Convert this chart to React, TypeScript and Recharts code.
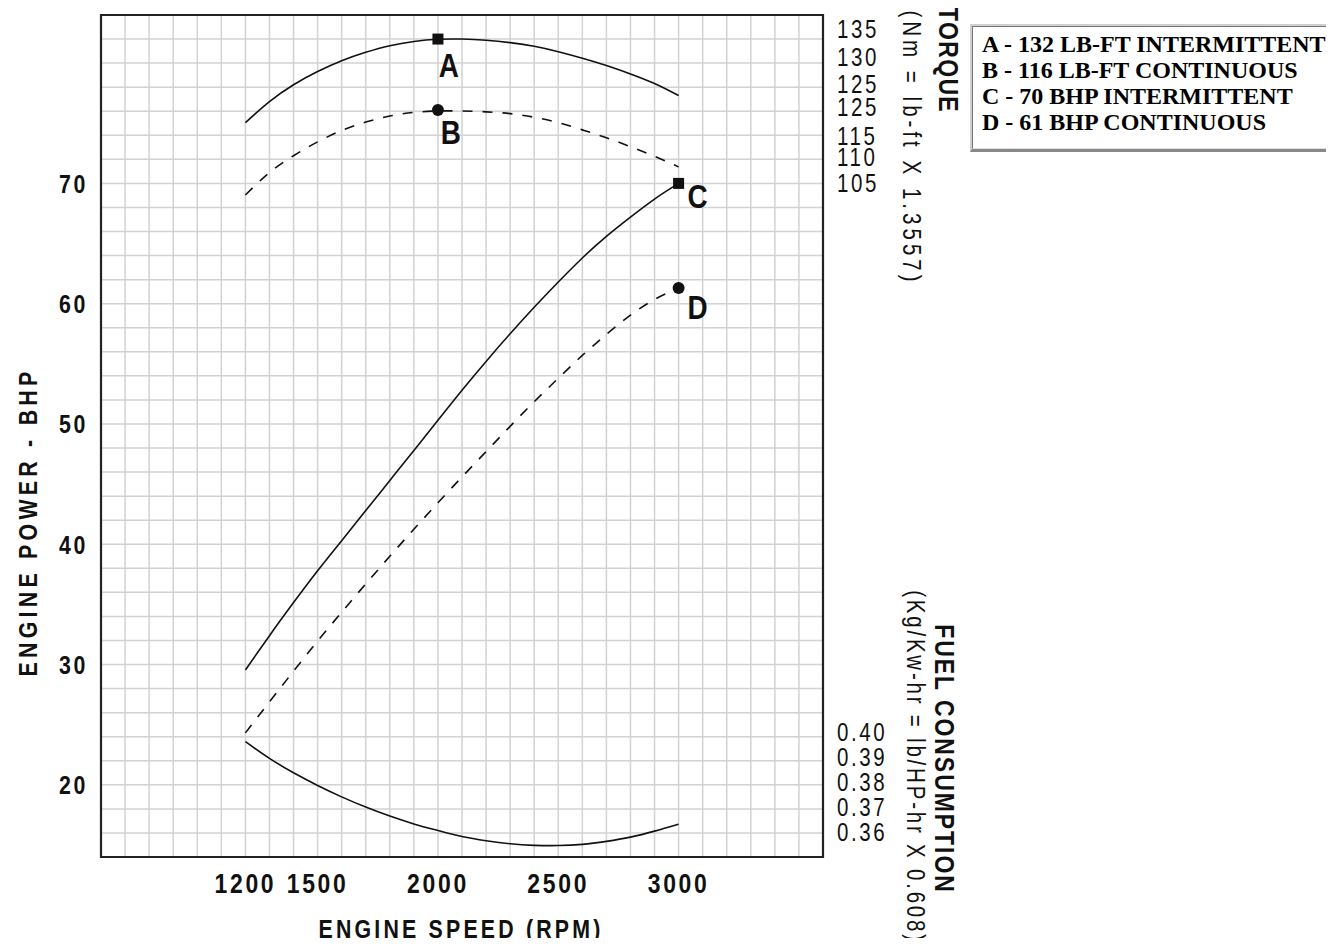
import React from 'react';
import { ComposedChart, Line, Scatter, XAxis, YAxis, CartesianGrid, ReferenceArea } from 'recharts';

// ---- data (engine speed in RPM; curves expressed on the left power scale) ----
const rpm = [1200, 1300, 1400, 1500, 1600, 1700, 1800, 1900, 2000, 2100, 2200, 2300, 2400, 2500, 2600, 2700, 2800, 2900, 3000];
const torqueIntermittent = [75.05, 76.8, 78.2, 79.3, 80.2, 80.9, 81.45, 81.8, 81.98, 82.0, 81.9, 81.7, 81.4, 80.95, 80.4, 79.8, 79.1, 78.3, 77.3];
const torqueContinuous = [69.04, 70.9, 72.3, 73.45, 74.4, 75.1, 75.6, 75.9, 76.02, 76.02, 75.95, 75.8, 75.5, 75.05, 74.45, 73.8, 73.05, 72.25, 71.37];
const powerIntermittent = [29.55, 32.4, 35.15, 37.8, 40.3, 42.8, 45.3, 47.8, 50.3, 52.8, 55.2, 57.5, 59.7, 61.8, 63.8, 65.6, 67.2, 68.7, 70.0];
const powerContinuous = [24.32, 26.9, 29.45, 31.95, 34.35, 36.7, 39.0, 41.25, 43.45, 45.6, 47.7, 49.8, 51.85, 53.8, 55.7, 57.45, 59.05, 60.35, 61.3];
const fuelConsumption = [23.59, 22.2, 21.0, 19.95, 19.0, 18.15, 17.4, 16.75, 16.2, 15.7, 15.35, 15.1, 14.97, 14.95, 15.05, 15.3, 15.65, 16.15, 16.73];

const rpmTicks = [1200, 1500, 2000, 2500, 3000];
const powerTicks = [20, 30, 40, 50, 60, 70];
const torqueTickAt = [82.84, 80.47, 78.26, 76.31, 73.94, 72.15, 70.03];
const torqueTickLabels = ['135', '130', '125', '125', '115', '110', '105'];
const fuelTickAt = [24.4, 22.32, 20.24, 18.16, 16.08];
const fuelTickLabels = ['0.40', '0.39', '0.38', '0.37', '0.36'];

const markerLetters = ['A', 'B', 'C', 'D'];
const markerRpm = [2000, 2000, 3000, 3000];
const markerValue = [82.0, 76.1, 70.0, 61.3];
const markerShapes = ['square', 'circle', 'square', 'circle'];

const legendLines = [
  'A - 132 LB-FT INTERMITTENT',
  'B - 116 LB-FT CONTINUOUS',
  'C - 70 BHP INTERMITTENT',
  'D - 61 BHP CONTINUOUS',
];

// ---- derived tables ----
const rows = rpm.map((r, i) => ({
  rpm: r,
  torqueInt: torqueIntermittent[i],
  torqueCont: torqueContinuous[i],
  powerInt: powerIntermittent[i],
  powerCont: powerContinuous[i],
  fuel: fuelConsumption[i],
}));
const markers = markerLetters.map((l, i) => ({ rpm: markerRpm[i], value: markerValue[i], letter: l, shape: markerShapes[i] }));
const rightTickAt = [...torqueTickAt, ...fuelTickAt];
const rightTickLabels = [...torqueTickLabels, ...fuelTickLabels];

const gridX: number[] = [];
for (let v = 700; v <= 3500; v += 100) gridX.push(v);
const gridY: number[] = [];
for (let v = 16; v <= 82; v += 2) gridY.push(v);

// ---- styles ----
const SANS = "'Liberation Sans', Arial, sans-serif";
const SERIF = "'Liberation Serif', 'Times New Roman', serif";
const INK = '#111';
const SQ = 0.82; // horizontal squeeze to mimic a condensed face
const letterOffset: Record<string, [number, number]> = { A: [11, 26], B: [13, 22], C: [19, 13], D: [19, 19] };

const NText = ({ x, y, anchor, size, weight, ls, dy, children }: any) => (
  <text
    transform={`translate(${x},${y}) scale(${SQ},1)`}
    x={0}
    y={0}
    dy={dy}
    textAnchor={anchor}
    fontFamily={SANS}
    fontSize={size}
    fontWeight={weight}
    letterSpacing={ls}
    fill={INK}
  >
    {children}
  </text>
);

const XTick = (p: any) => (
  <NText x={p.x} y={p.y} dy="0.71em" anchor="middle" size={28} weight={700} ls={3.3}>
    {p.payload.value}
  </NText>
);
const LeftTick = (p: any) => (
  <NText x={p.x} y={p.y} dy="0.355em" anchor="end" size={26} weight={700} ls={3.2}>
    {p.payload.value}
  </NText>
);
const RightTick = (p: any) => {
  const idx = rightTickAt.indexOf(p.payload.value);
  return (
    <NText x={p.x} y={p.y} dy="0.355em" anchor="start" size={25} weight={400} ls={3.2}>
      {rightTickLabels[idx]}
    </NText>
  );
};

const MarkerShape = (p: any) => {
  const { cx, cy, payload } = p;
  const [dx, dy] = letterOffset[payload.letter];
  return (
    <g>
      {payload.shape === 'square' ? (
        <rect x={cx - 5.5} y={cy - 5.5} width={11} height={11} fill={INK} />
      ) : (
        <circle cx={cx} cy={cy} r={6} fill={INK} />
      )}
      <NText x={cx + dx} y={cy + dy} dy="0.355em" anchor="middle" size={34} weight={700} ls={0}>
        {payload.letter}
      </NText>
    </g>
  );
};

const Rot = ({ cx, cy, angle, children, style }: any) => (
  <div
    style={{
      position: 'absolute',
      left: cx,
      top: cy,
      transform: `translate(-50%, -50%) rotate(${angle}deg) scaleX(${SQ})`,
      whiteSpace: 'nowrap',
      fontFamily: SANS,
      color: INK,
      lineHeight: 1,
      ...style,
    }}
  >
    {children}
  </div>
);

export default function App() {
  return (
    <div style={{ position: 'relative', width: 1318, height: 930 }}>
      <ComposedChart
        width={1000}
        height={930}
        data={rows}
        margin={{ top: 7, right: 105, bottom: 41, left: 33 }}
      >
        <CartesianGrid stroke="#d2d2d2" strokeWidth={1.5} horizontalValues={gridY} verticalValues={gridX} />
        <XAxis
          dataKey="rpm"
          type="number"
          domain={[600, 3600]}
          allowDataOverflow
          ticks={rpmTicks}
          interval={0}
          axisLine={false}
          tickLine={false}
          tickSize={0}
          tickMargin={16}
          height={40}
          tick={XTick}
        />
        <YAxis
          type="number"
          domain={[14, 84]}
          allowDataOverflow
          ticks={powerTicks}
          interval={0}
          axisLine={false}
          tickLine={false}
          tickSize={0}
          tickMargin={13}
          width={60}
          tick={LeftTick}
        />
        <YAxis
          yAxisId="right"
          orientation="right"
          type="number"
          domain={[14, 84]}
          allowDataOverflow
          ticks={rightTickAt}
          interval={0}
          axisLine={false}
          tickLine={false}
          tickSize={0}
          tickMargin={14}
          width={80}
          tick={RightTick}
        />
        <ReferenceArea x1={600} x2={3600} y1={14} y2={84} fill="none" stroke="#222" strokeWidth={2.2} />
        <Line type="natural" dataKey="torqueInt" stroke={INK} strokeWidth={1.6} dot={false} isAnimationActive={false} />
        <Line type="natural" dataKey="torqueCont" stroke={INK} strokeWidth={1.6} strokeDasharray="10 10" dot={false} isAnimationActive={false} />
        <Line type="natural" dataKey="powerInt" stroke={INK} strokeWidth={1.6} dot={false} isAnimationActive={false} />
        <Line type="natural" dataKey="powerCont" stroke={INK} strokeWidth={1.6} strokeDasharray="10 10" dot={false} isAnimationActive={false} />
        <Line type="natural" dataKey="fuel" stroke={INK} strokeWidth={1.6} dot={false} isAnimationActive={false} />
        <Scatter data={markers} dataKey="value" shape={MarkerShape} isAnimationActive={false} />
      </ComposedChart>

      <Rot cx={453} cy={921} angle={0} style={{ fontSize: 26, fontWeight: 700, letterSpacing: 3.9 }}>ENGINE SPEED (RPM)</Rot>
      <Rot cx={20} cy={514} angle={-90} style={{ fontSize: 26, fontWeight: 700, letterSpacing: 5.2 }}>ENGINE POWER - BHP</Rot>
      <Rot cx={940} cy={52} angle={90} style={{ fontSize: 28, fontWeight: 700, letterSpacing: 1.7 }}>TORQUE</Rot>
      <Rot cx={903} cy={140} angle={90} style={{ fontSize: 25, fontWeight: 400, letterSpacing: 4.9 }}>(Nm = lb-ft X 1.3557)</Rot>
      <Rot cx={936} cy={751} angle={90} style={{ fontSize: 28, fontWeight: 700, letterSpacing: 2.4 }}>FUEL CONSUMPTION</Rot>
      <Rot cx={907} cy={759} angle={90} style={{ fontSize: 25, fontWeight: 400, letterSpacing: 3.4 }}>(Kg/Kw-hr = lb/HP-hr X 0.608)</Rot>

      <div
        style={{
          position: 'absolute',
          left: 962,
          top: 16,
          width: 364,
          height: 128,
          boxSizing: 'border-box',
          borderTop: '2px solid #d0d0d0',
          borderLeft: '2px solid #d0d0d0',
          borderBottom: '3px solid #888',
          borderRight: '2px solid #888',
          background: '#fff',
        }}
      >
        <div
          style={{
            boxSizing: 'border-box',
            height: '100%',
            borderTop: '1px solid #777',
            borderLeft: '1px solid #777',
            borderBottom: '1px solid #e0e0e0',
            borderRight: '1px solid #e0e0e0',
            padding: '4px 0 0 9px',
            fontFamily: SERIF,
            fontWeight: 700,
            fontSize: 24,
            lineHeight: '26px',
            color: '#000',
            whiteSpace: 'nowrap',
          }}
        >
          {legendLines.map((t) => (
            <div key={t}>{t}</div>
          ))}
        </div>
      </div>
    </div>
  );
}
